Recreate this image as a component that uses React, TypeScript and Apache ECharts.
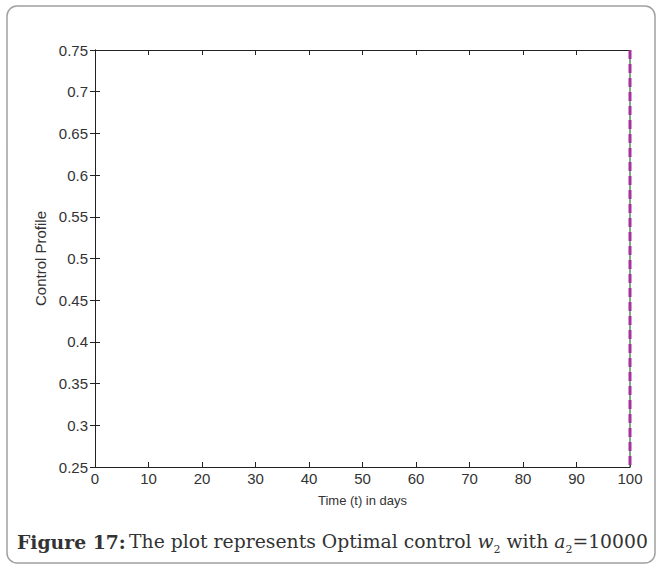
import React, { useEffect, useRef } from "react";
import * as echarts from "echarts";

const xTicks = [0, 10, 20, 30, 40, 50, 60, 70, 80, 90, 100];
const yMin = 0.25;
const yMax = 0.75;
const yStep = 0.05;
// control profile w2: stays out of view until the final day, then spans the full range
const controlW2Solid: [number, number][] = [
  [100, 0.75],
  [100, 0.25],
];
const controlW2Dashed: [number, number][] = [
  [100, 0.75],
  [100, 0.25],
];

const xLabel = "Time (t) in days";
const yLabel = "Control Profile";

export default function App() {
  const ref = useRef<HTMLDivElement>(null);
  useEffect(() => {
    if (!ref.current) return;
    const chart = echarts.init(ref.current, undefined, { renderer: "svg" });
    const font = "Liberation Sans, Arial, sans-serif";
    const axisLine = { show: true, lineStyle: { color: "#222", width: 1 } };
    const tick = { show: true, inside: true, length: 5, lineStyle: { color: "#222" } };
    chart.setOption({
      animation: false,
      backgroundColor: "#fff",
      grid: { left: 95, right: 32, top: 50, bottom: 102, containLabel: false },
      xAxis: [
        {
          type: "value",
          min: xTicks[0],
          max: xTicks[xTicks.length - 1],
          interval: xTicks[1] - xTicks[0],
          name: xLabel,
          nameLocation: "middle",
          nameGap: 27,
          nameTextStyle: { fontFamily: font, fontSize: 13, color: "#333" },
          axisLine,
          axisTick: tick,
          splitLine: { show: false },
          axisLabel: { fontFamily: font, fontSize: 15, color: "#333", margin: 4 },
        },
        {
          type: "value",
          position: "top",
          min: xTicks[0],
          max: xTicks[xTicks.length - 1],
          interval: xTicks[1] - xTicks[0],
          axisLine,
          axisTick: tick,
          splitLine: { show: false },
          axisLabel: { show: false },
        },
      ],
      yAxis: [
        {
          type: "value",
          min: yMin,
          max: yMax,
          interval: yStep,
          name: yLabel,
          nameLocation: "middle",
          nameGap: 46,
          nameRotate: 90,
          nameTextStyle: { fontFamily: font, fontSize: 15, color: "#333" },
          axisLine,
          axisTick: tick,
          splitLine: { show: false },
          axisLabel: {
            fontFamily: font,
            fontSize: 15,
            color: "#333",
            margin: 7,
            formatter: (v: number) => String(parseFloat(v.toFixed(2))),
          },
        },
        {
          type: "value",
          position: "right",
          min: yMin,
          max: yMax,
          interval: yStep,
          axisLine,
          axisTick: tick,
          splitLine: { show: false },
          axisLabel: { show: false },
        },
      ],
      series: [
        {
          type: "line",
          data: controlW2Solid,
          showSymbol: false,
          clip: true,
          lineStyle: { color: "#2f6a2f", width: 1.2 },
        },
        {
          type: "line",
          data: controlW2Dashed,
          showSymbol: false,
          clip: true,
          lineStyle: { color: "#a3329c", width: 3, type: [9, 5] },
        },
      ],
      graphic: [
        {
          type: "rect",
          shape: { x: 7, y: 6, width: 648, height: 557, r: 10 },
          style: { fill: "none", stroke: "#a0a0a0", lineWidth: 1.5 },
          silent: true,
        },
        {
          type: "text",
          left: 17,
          top: 532,
          style: {
            text:
              "{b|Figure 17:} {n|The plot represents Optimal control }{i|w}{s|2}{n| with }{i|a}{s|2}{n|=10000}",
            rich: {
              b: { fontFamily: "DejaVu Serif, serif", fontWeight: "bold", fontSize: 18.8, fill: "#333", lineHeight: 24, verticalAlign: "bottom" },
              n: { fontFamily: "DejaVu Serif, serif", fontSize: 18.8, fill: "#333", lineHeight: 24, verticalAlign: "bottom" },
              i: { fontFamily: "DejaVu Serif, serif", fontStyle: "italic", fontSize: 18.8, fill: "#333", lineHeight: 24, verticalAlign: "bottom" },
              s: { fontFamily: "DejaVu Serif, serif", fontSize: 11, fill: "#333", lineHeight: 24, verticalAlign: "bottom", padding: [0, 0, -4, 0] },
            },
          },
        },
      ],
    });
    return () => chart.dispose();
  }, []);
  return (
    <div
      ref={ref}
      style={{ position: "fixed", left: 0, top: 0, width: 662, height: 569 }}
    />
  );
}
